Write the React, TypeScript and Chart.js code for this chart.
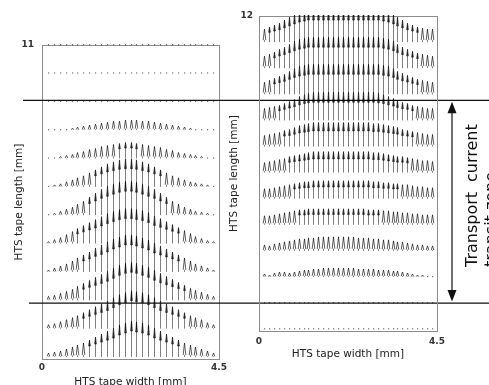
import React, { useEffect, useRef } from "react";
import { Chart, registerables } from "chart.js";
Chart.register(...registerables);

const W = 489;
const H = 385;

// ---------- Left panel (tape width 0..4.5 mm, length 0..11 mm) ----------
const LEFT_X = [0.15, 0.3, 0.45, 0.6, 0.75, 0.9, 1.05, 1.2, 1.35, 1.5, 1.65, 1.8, 1.95, 2.1, 2.25, 2.4, 2.55, 2.7, 2.85, 3.0, 3.15, 3.3, 3.45, 3.6, 3.75, 3.9, 4.05, 4.2, 4.35];
const LEFT_ROWS = [0, 1, 2, 3, 4, 5, 6, 7, 8, 9, 10, 11];
const LEFT_MAG = [
  [4, 5, 6, 8, 10, 12, 14, 17, 20, 23, 26, 29, 32, 34, 36, 35, 34, 32, 29, 26, 23, 20, 17, 14, 12, 10, 8, 6, 4],
  [4, 5, 7, 9, 11, 13, 16, 19, 22, 25, 28, 31, 34, 36, 38, 37, 36, 34, 31, 28, 25, 22, 19, 16, 13, 11, 9, 6, 4],
  [4, 5, 7, 9, 11, 14, 17, 20, 23, 26, 29, 32, 35, 37, 38, 37, 35, 33, 30, 27, 24, 21, 18, 15, 12, 10, 8, 6, 4],
  [2, 4, 6, 8, 11, 14, 17, 20, 24, 27, 30, 33, 35, 37, 37, 36, 34, 32, 29, 26, 23, 20, 17, 14, 11, 8, 6, 4, 2],
  [2, 4, 6, 9, 12, 15, 18, 21, 24, 27, 30, 32, 34, 35, 35, 34, 33, 31, 28, 25, 22, 19, 16, 13, 10, 7, 5, 3, 2],
  [1, 2, 4, 6, 8, 11, 14, 18, 22, 26, 29, 31, 33, 34, 34, 33, 31, 29, 26, 22, 18, 14, 11, 8, 6, 4, 3, 2, 1],
  [1, 2, 3, 5, 7, 9, 11, 14, 17, 20, 23, 25, 27, 28, 28, 27, 25, 23, 20, 17, 14, 11, 9, 7, 5, 4, 3, 2, 1],
  [1, 1, 2, 3, 4, 6, 7, 9, 10, 12, 13, 14, 15, 16, 16, 15, 14, 13, 12, 11, 9, 8, 6, 5, 4, 3, 2, 1, 1],
  [1, 1, 1, 1, 2, 3, 4, 5, 6, 7, 8, 9, 9, 10, 10, 10, 9, 9, 8, 7, 6, 5, 4, 3, 2, 1, 1, 1, 1],
  [0.5, 0.5, 0.5, 0.5, 0.5, 0.5, 0.5, 0.5, 0.5, 0.5, 0.5, 0.5, 0.5, 0.5, 0.5, 0.5, 0.5, 0.5, 0.5, 0.5, 0.5, 0.5, 0.5, 0.5, 0.5, 0.5, 0.5, 0.5, 0.5],
  [0.5, 0.5, 0.5, 0.5, 0.5, 0.5, 0.5, 0.5, 0.5, 0.5, 0.5, 0.5, 0.5, 0.5, 0.5, 0.5, 0.5, 0.5, 0.5, 0.5, 0.5, 0.5, 0.5, 0.5, 0.5, 0.5, 0.5, 0.5, 0.5],
  [0.5, 0.5, 0.5, 0.5, 0.5, 0.5, 0.5, 0.5, 0.5, 0.5, 0.5, 0.5, 0.5, 0.5, 0.5, 0.5, 0.5, 0.5, 0.5, 0.5, 0.5, 0.5, 0.5, 0.5, 0.5, 0.5, 0.5, 0.5, 0.5],
];
const LEFT_QUIVER_SCALE = 1 / 28.4; // mm of arrow per unit of magnitude
const LEFT_X_TICKS = [0, 4.5];
const LEFT_Y_TICKS = [11];

// ---------- Right panel (tape width 0..4.5 mm, length 0..12 mm) ----------
const RIGHT_X = [0.125, 0.25, 0.375, 0.5, 0.625, 0.75, 0.875, 1.0, 1.125, 1.25, 1.375, 1.5, 1.625, 1.75, 1.875, 2.0, 2.125, 2.25, 2.375, 2.5, 2.625, 2.75, 2.875, 3.0, 3.125, 3.25, 3.375, 3.5, 3.625, 3.75, 3.875, 4.0, 4.125, 4.25, 4.375];
const RIGHT_ROWS = [0, 1, 2, 3, 4, 5, 6, 7, 8, 9, 10, 11];
const RIGHT_MAG = [
  [0.5, 0.5, 0.5, 0.5, 0.5, 0.5, 0.5, 0.5, 0.5, 0.5, 0.5, 0.5, 0.5, 0.5, 0.5, 0.5, 0.5, 0.5, 0.5, 0.5, 0.5, 0.5, 0.5, 0.5, 0.5, 0.5, 0.5, 0.5, 0.5, 0.5, 0.5, 0.5, 0.5, 0.5, 0.5],
  [0.5, 0.5, 0.5, 0.5, 0.5, 0.5, 0.5, 0.5, 0.5, 0.5, 0.5, 0.5, 0.5, 0.5, 0.5, 0.5, 0.5, 0.5, 0.5, 0.5, 0.5, 0.5, 0.5, 0.5, 0.5, 0.5, 0.5, 0.5, 0.5, 0.5, 0.5, 0.5, 0.5, 0.5, 0.5],
  [3, 2, 4, 5, 5, 4, 5, 6, 7, 7, 8, 8, 9, 9, 9, 9, 9, 9, 9, 8, 8, 8, 8, 7, 7, 7, 6, 6, 5, 4, 3, 2, 2, 1, 1],
  [6, 5, 7, 8, 9, 10, 11, 12, 12, 13, 13, 14, 14, 14, 14, 14, 14, 14, 14, 13, 13, 13, 12, 12, 11, 11, 10, 9, 9, 8, 7, 6, 6, 5, 5],
  [9, 9, 10, 11, 12, 13, 14, 15, 15, 16, 16, 16, 16, 16, 16, 16, 16, 16, 16, 16, 16, 15, 15, 15, 14, 14, 13, 13, 12, 12, 11, 11, 10, 10, 10],
  [10, 10, 11, 12, 13, 14, 15, 16, 17, 17, 18, 18, 18, 18, 18, 18, 18, 18, 18, 18, 18, 18, 17, 17, 16, 16, 15, 15, 14, 14, 13, 12, 12, 11, 11],
  [10, 11, 12, 13, 14, 16, 17, 18, 19, 20, 21, 21, 21, 21, 21, 21, 21, 21, 21, 21, 21, 21, 20, 20, 19, 18, 17, 16, 16, 15, 14, 13, 12, 12, 11],
  [11, 12, 13, 14, 16, 17, 19, 21, 22, 23, 24, 24, 24, 24, 24, 24, 24, 24, 24, 24, 24, 24, 23, 23, 22, 21, 20, 19, 17, 16, 15, 14, 13, 12, 12],
  [12, 13, 14, 15, 17, 19, 21, 24, 26, 27, 28, 28, 28, 28, 28, 28, 28, 28, 28, 28, 28, 28, 28, 27, 26, 24, 22, 20, 18, 17, 15, 14, 13, 12, 12],
  [12, 14, 16, 18, 20, 23, 26, 28, 29, 30, 30, 30, 30, 30, 30, 30, 30, 30, 30, 30, 30, 30, 30, 30, 29, 28, 26, 23, 21, 19, 17, 15, 14, 13, 12],
  [12, 14, 16, 19, 21, 24, 27, 29, 30, 31, 31, 31, 31, 31, 31, 31, 31, 31, 31, 31, 31, 31, 31, 31, 30, 29, 27, 24, 21, 19, 17, 15, 14, 13, 12],
  [13, 15, 17, 19, 22, 25, 28, 30, 31, 32, 32, 32, 32, 32, 32, 32, 32, 32, 32, 32, 32, 32, 32, 32, 31, 30, 28, 25, 22, 19, 17, 15, 14, 13, 13],
];
const RIGHT_QUIVER_SCALE = 1 / 26.1;
const RIGHT_X_TICKS = [0, 4.5];
const RIGHT_Y_TICKS = [12];

// transit zone boundaries, in left-panel length coordinates [mm]
const ZONE_TOP = 9.05;
const ZONE_BOTTOM = 1.9;
const ZONE_LABEL_LINE1 = ["Transport", "current"];
const ZONE_LABEL_LINE2 = "transit zone";

const FONT = "'DejaVu Sans', sans-serif";

function drawFrame(chart: any) {
  const { ctx, chartArea: a } = chart;
  ctx.save();
  ctx.strokeStyle = "#8c8c8c";
  ctx.lineWidth = 1;
  ctx.strokeRect(Math.round(a.left) + 0.5, Math.round(a.top) + 0.5, Math.round(a.right - a.left), Math.round(a.bottom - a.top));
  ctx.restore();
}

function drawQuiver(chart: any, xs: number[], rows: number[], mags: number[][], qs: number) {
  const { ctx, chartArea: a } = chart;
  const xS = chart.scales.x;
  const yS = chart.scales.y;
  ctx.save();
  ctx.beginPath();
  ctx.rect(a.left, a.top - 1, a.right - a.left, a.bottom - a.top + 2);
  ctx.clip();
  rows.forEach((rv, ri) => {
    const py = yS.getPixelForValue(rv);
    xs.forEach((xv, ci) => {
      const px = Math.round(xS.getPixelForValue(xv)) + 0.5;
      const tip = yS.getPixelForValue(rv + mags[ri][ci] * qs);
      const L = py - tip;
      if (L < 1.5) {
        ctx.fillStyle = "rgba(0,0,0,0.55)";
        ctx.fillRect(px - 0.5, py - 1, 1.2, 1.2);
        return;
      }
      const short = L < 14;
      const hl = short ? L * 0.85 : Math.min(10, L * 0.35);
      const hw = short ? 1.3 : 0.8;
      // shaft
      ctx.lineWidth = 1;
      ctx.strokeStyle = "rgba(0,0,0,0.5)";
      ctx.beginPath();
      ctx.moveTo(px, py);
      ctx.lineTo(px, tip + hl);
      ctx.stroke();
      // head
      ctx.lineWidth = 0.8;
      ctx.strokeStyle = "rgba(0,0,0,0.8)";
      ctx.beginPath();
      ctx.moveTo(px - hw, tip + hl);
      ctx.lineTo(px, tip);
      ctx.lineTo(px + hw, tip + hl);
      if (!short) {
        ctx.closePath();
        ctx.fillStyle = "rgba(0,0,0,0.75)";
        ctx.fill();
      }
      ctx.stroke();
    });
  });
  ctx.restore();
}

function drawZone(chart: any) {
  const { ctx, chartArea: a } = chart;
  const yS = chart.scales.y;
  const yTop = yS.getPixelForValue(ZONE_TOP);
  const yBot = yS.getPixelForValue(ZONE_BOTTOM);
  ctx.save();
  ctx.strokeStyle = "#111";
  ctx.lineWidth = 1.3;
  ctx.beginPath();
  ctx.moveTo(a.left - 19, yTop);
  ctx.lineTo(W, yTop);
  ctx.moveTo(a.left - 13, yBot);
  ctx.lineTo(W, yBot);
  ctx.stroke();

  // double-headed arrow
  const ax = 452;
  const t1 = yTop + 1.5;
  const t2 = yBot - 1.5;
  ctx.lineWidth = 1.2;
  ctx.beginPath();
  ctx.moveTo(ax, t1 + 10);
  ctx.lineTo(ax, t2 - 10);
  ctx.stroke();
  ctx.fillStyle = "#111";
  ctx.beginPath();
  ctx.moveTo(ax, t1);
  ctx.lineTo(ax - 4.5, t1 + 11.5);
  ctx.lineTo(ax + 4.5, t1 + 11.5);
  ctx.closePath();
  ctx.fill();
  ctx.beginPath();
  ctx.moveTo(ax, t2);
  ctx.lineTo(ax - 4.5, t2 - 11.5);
  ctx.lineTo(ax + 4.5, t2 - 11.5);
  ctx.closePath();
  ctx.fill();

  // rotated label
  ctx.font = `16px ${FONT}`;
  ctx.fillStyle = "#111";
  ctx.textBaseline = "middle";
  ctx.textAlign = "left";
  ctx.save();
  ctx.translate(473, 267);
  ctx.rotate(-Math.PI / 2);
  ctx.fillText(ZONE_LABEL_LINE1[0], 0, 0);
  ctx.fillText(ZONE_LABEL_LINE1[1], 85, 0);
  ctx.restore();
  ctx.save();
  ctx.translate(492, 267);
  ctx.rotate(-Math.PI / 2);
  ctx.fillText(ZONE_LABEL_LINE2, 0, 0);
  ctx.restore();
  ctx.restore();
}

function makeConfig(opts: {
  xs: number[];
  rows: number[];
  mags: number[][];
  qs: number;
  yMax: number;
  xTicks: number[];
  yTicks: number[];
  padding: any;
  yWidth: number;
  xHeight: number;
  yTickPad: number;
  xTickPad: number;
  yTitlePad: number;
  xTitlePad: number;
  extra?: (c: any) => void;
}) {
  const data = opts.rows.flatMap((r) => opts.xs.map((x) => ({ x, y: r })));
  return {
    type: "scatter" as const,
    data: {
      datasets: [{ data, pointRadius: 0, pointHoverRadius: 0, showLine: false }],
    },
    options: {
      responsive: false,
      maintainAspectRatio: false,
      animation: false as const,
      devicePixelRatio: 1,
      events: [],
      layout: { padding: opts.padding },
      plugins: { legend: { display: false }, tooltip: { enabled: false } },
      scales: {
        x: {
          type: "linear" as const,
          min: 0,
          max: 4.5,
          grid: { display: false, drawTicks: false },
          border: { display: false },
          afterBuildTicks: (s: any) => {
            s.ticks = opts.xTicks.map((v) => ({ value: v }));
          },
          afterFit: (s: any) => {
            s.height = opts.xHeight;
          },
          ticks: {
            autoSkip: false,
            maxRotation: 0,
            padding: opts.xTickPad,
            color: "#333",
            font: { family: FONT, size: 9, weight: "bold" as const },
            callback: (v: any) => String(v),
          },
          title: {
            display: true,
            text: "HTS tape width [mm]",
            color: "#222",
            font: { family: FONT, size: 10.5, lineHeight: 1.2 },
            padding: { top: 0, bottom: opts.xTitlePad },
          },
        },
        y: {
          type: "linear" as const,
          min: -0.07,
          max: opts.yMax,
          grid: { display: false, drawTicks: false },
          border: { display: false },
          afterBuildTicks: (s: any) => {
            s.ticks = opts.yTicks.map((v) => ({ value: v }));
          },
          afterFit: (s: any) => {
            s.width = opts.yWidth;
          },
          ticks: {
            autoSkip: false,
            padding: opts.yTickPad,
            color: "#333",
            font: { family: FONT, size: 9, weight: "bold" as const },
            callback: (v: any) => String(v),
          },
          title: {
            display: true,
            text: "HTS tape length [mm]",
            color: "#222",
            font: { family: FONT, size: 10.5, lineHeight: 1.2 },
            padding: { top: opts.yTitlePad, bottom: 0 },
          },
        },
      },
    },
    plugins: [
      {
        id: "quiver",
        beforeDatasetsDraw: (c: any) => drawFrame(c),
        afterDatasetsDraw: (c: any) => drawQuiver(c, opts.xs, opts.rows, opts.mags, opts.qs),
        afterDraw: (c: any) => {
          if (opts.extra) opts.extra(c);
        },
      },
    ],
  };
}

export default function App() {
  const leftRef = useRef<HTMLCanvasElement>(null);
  const rightRef = useRef<HTMLCanvasElement>(null);
  useEffect(() => {
    const left = new Chart(
      leftRef.current as HTMLCanvasElement,
      makeConfig({
        xs: LEFT_X,
        rows: LEFT_ROWS,
        mags: LEFT_MAG,
        qs: LEFT_QUIVER_SCALE,
        yMax: 11,
        xTicks: LEFT_X_TICKS,
        yTicks: LEFT_Y_TICKS,
        padding: { left: 0, right: 270, top: 45, bottom: 0 },
        yWidth: 42,
        xHeight: 26,
        yTickPad: 8,
        xTickPad: 3.6,
        yTitlePad: 12.7,
        xTitlePad: -3.3,
        extra: drawZone,
      }) as any
    );
    const right = new Chart(
      rightRef.current as HTMLCanvasElement,
      makeConfig({
        xs: RIGHT_X,
        rows: RIGHT_ROWS,
        mags: RIGHT_MAG,
        qs: RIGHT_QUIVER_SCALE,
        yMax: 12,
        xTicks: RIGHT_X_TICKS,
        yTicks: RIGHT_Y_TICKS,
        padding: { left: 220, right: 52, top: 16, bottom: 24 },
        yWidth: 39,
        xHeight: 30,
        yTickPad: 6,
        xTickPad: 5.3,
        yTitlePad: 7.7,
        xTitlePad: 0.7,
      }) as any
    );
    return () => {
      left.destroy();
      right.destroy();
    };
  }, []);
  const cs: React.CSSProperties = { position: "absolute", left: 0, top: 0, width: W, height: H };
  return (
    <div style={{ position: "absolute", left: 0, top: 0, width: W, height: H, background: "#fff", overflow: "hidden" }}>
      <canvas ref={leftRef} width={W} height={H} style={cs} />
      <canvas ref={rightRef} width={W} height={H} style={cs} />
    </div>
  );
}
